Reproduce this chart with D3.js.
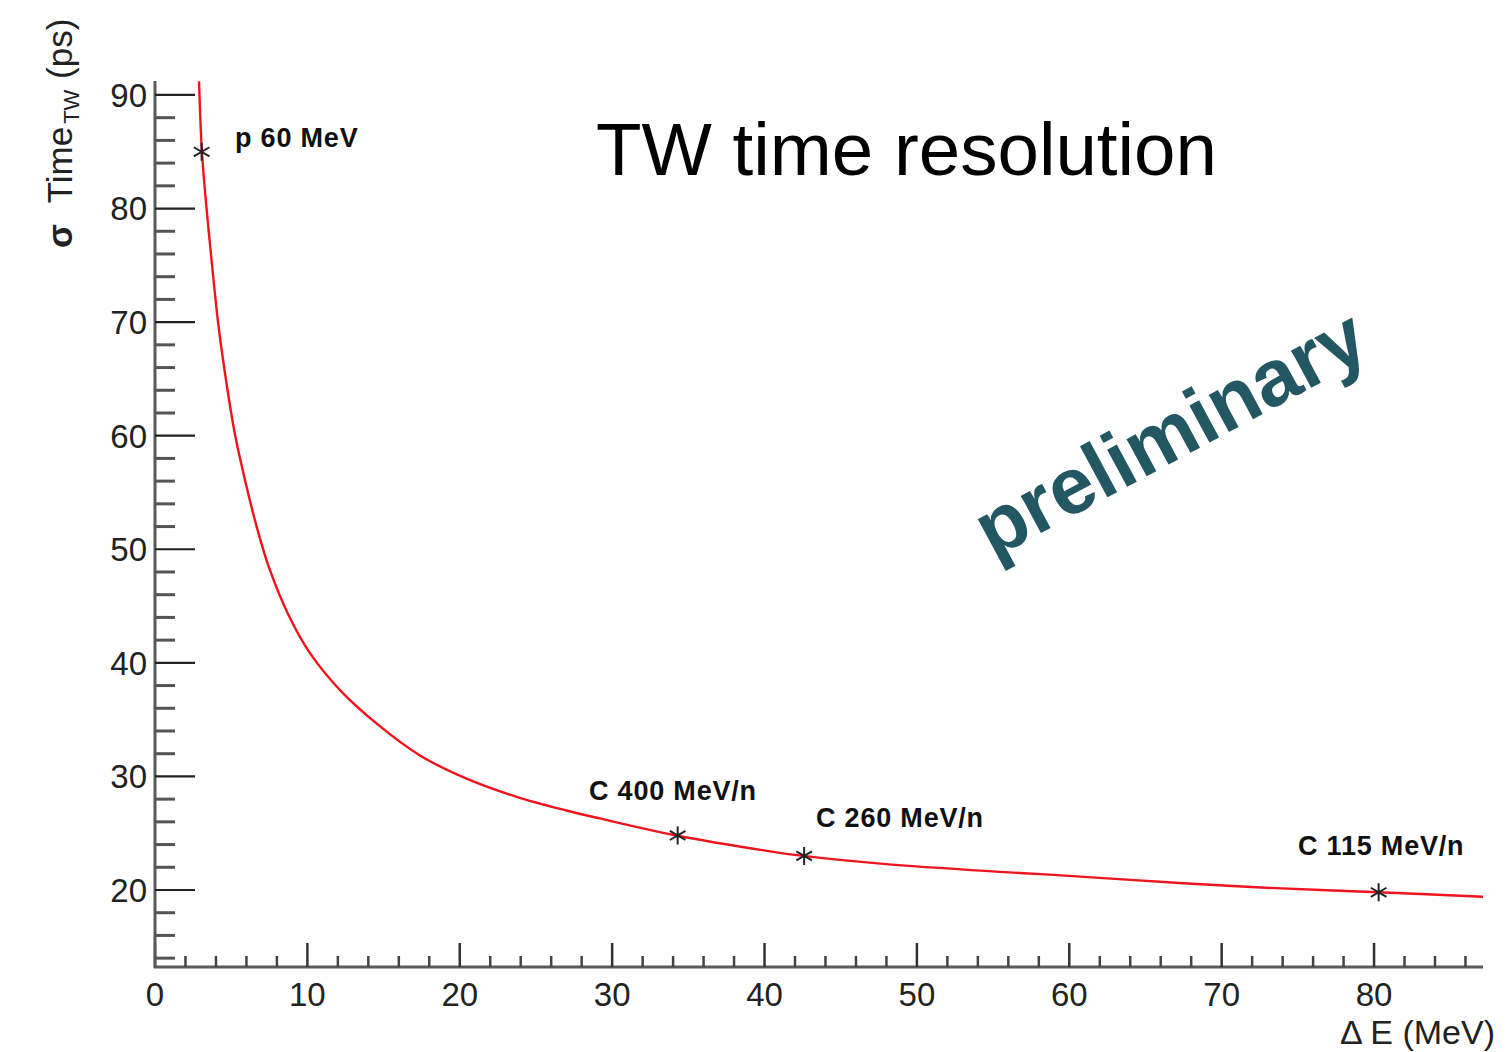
<!DOCTYPE html>
<html>
<head>
<meta charset="utf-8">
<script src="https://cdn.jsdelivr.net/npm/d3@7"></script>
<style>
  html, body { margin: 0; padding: 0; background: #fff; }
  svg { display: block; }
  text { font-family: "Liberation Sans", Arial, Helvetica, sans-serif; }
</style>
</head>
<body>
<svg id="chart" width="1509" height="1052"></svg>
<script>
// Fitted TW time resolution curve, sampled along ΔE (MeV) -> σ (ps)
const curveDeltaE = [2.89, 3.08, 3.38, 3.71, 4.13, 4.66, 5.25, 5.94, 6.69, 7.48, 8.73, 10.17, 12.14, 14.55, 17.39, 20.45, 23.73, 27.01, 29.2, 34.23, 40.14, 42.54, 47.79, 55.45, 58.7, 67.5, 72.9, 80.3, 87.15];
const curveSigma   = [91.2, 85.0, 80.05, 75.5, 70.1, 64.9, 60.1, 55.9, 51.9, 48.4, 44.3, 40.85, 37.6, 34.65, 31.85, 29.8, 28.2, 27.0, 26.3, 24.8, 23.45, 23.0, 22.3, 21.6, 21.35, 20.6, 20.2, 19.8, 19.4];

// Measured beams
const beamLabels = ["p 60 MeV", "C 400 MeV/n", "C 260 MeV/n", "C 115 MeV/n"];
const beamDeltaE = [3.06, 34.3, 42.6, 80.3];
const beamSigma  = [85.0, 24.8, 23.0, 19.8];

// Axis ticks
const xMajorTicks = [0, 10, 20, 30, 40, 50, 60, 70, 80];
const xMinorTicks = [2, 4, 6, 8, 12, 14, 16, 18, 22, 24, 26, 28, 32, 34, 36, 38, 42, 44, 46, 48, 52, 54, 56, 58, 62, 64, 66, 68, 72, 74, 76, 78, 82, 84, 86];
const yMajorTicks = [20, 30, 40, 50, 60, 70, 80, 90];
const yMinorTicks = [14, 16, 18, 22, 24, 26, 28, 32, 34, 36, 38, 42, 44, 46, 48, 52, 54, 56, 58, 62, 64, 66, 68, 72, 74, 76, 78, 82, 84, 86, 88];

const svg = d3.select("#chart");

const x = d3.scaleLinear().domain([0, 87.15]).range([155, 1483]);
const y = d3.scaleLinear().domain([13.22, 91.23]).range([967, 81]);

const axisColor = "#5a5a5a";

// ---- X axis: ticks point up into the frame ----
const gx = svg.append("g").attr("transform", `translate(0,${y.range()[0]})`);
gx.append("line")
  .attr("x1", x.range()[0] - 1).attr("x2", x.range()[1])
  .attr("stroke", axisColor).attr("stroke-width", 3);
gx.selectAll("line.minor").data(xMinorTicks).join("line")
  .attr("class", "minor")
  .attr("x1", d => x(d)).attr("x2", d => x(d))
  .attr("y1", 0).attr("y2", -11)
  .attr("stroke", "#444").attr("stroke-width", 2.5);
gx.selectAll("line.major").data(xMajorTicks).join("line")
  .attr("class", "major")
  .attr("x1", d => x(d)).attr("x2", d => x(d))
  .attr("y1", 0).attr("y2", -24)
  .attr("stroke", "#333").attr("stroke-width", 2.5);
gx.selectAll("text").data(xMajorTicks).join("text")
  .attr("x", d => x(d)).attr("y", 39)
  .attr("text-anchor", "middle")
  .attr("font-size", 33).attr("fill", "#222")
  .text(d => d);

// ---- Y axis: ticks point right into the frame ----
const gy = svg.append("g").attr("transform", `translate(${x.range()[0]},0)`);
gy.append("line")
  .attr("y1", y.range()[1]).attr("y2", y.range()[0] + 1)
  .attr("stroke", axisColor).attr("stroke-width", 3);
gy.selectAll("line.minor").data(yMinorTicks).join("line")
  .attr("class", "minor")
  .attr("y1", d => y(d)).attr("y2", d => y(d))
  .attr("x1", 0).attr("x2", 20)
  .attr("stroke", "#555").attr("stroke-width", 3);
gy.selectAll("line.major").data(yMajorTicks).join("line")
  .attr("class", "major")
  .attr("y1", d => y(d)).attr("y2", d => y(d))
  .attr("x1", 0).attr("x2", 40)
  .attr("stroke", "#222").attr("stroke-width", 2.2);
gy.selectAll("text").data(yMajorTicks).join("text")
  .attr("x", -8).attr("y", d => y(d))
  .attr("dy", "0.36em")
  .attr("text-anchor", "end")
  .attr("font-size", 33).attr("fill", "#222")
  .text(d => d);

// ---- Axis titles ----
svg.append("text")
  .attr("x", 1495).attr("y", 1044)
  .attr("text-anchor", "end")
  .attr("font-size", 34).attr("fill", "#222")
  .text("\u0394 E (MeV)");

const yTitle = svg.append("text")
  .attr("transform", "translate(72,248) rotate(-90)")
  .attr("text-anchor", "start")
  .attr("font-size", 35).attr("fill", "#222");
yTitle.append("tspan").attr("font-weight", 700).text("\u03c3");
yTitle.append("tspan").attr("dx", 11).text(" Time");
yTitle.append("tspan").attr("font-size", 22).attr("dx", 3).attr("dy", 7).text("TW");
yTitle.append("tspan").attr("dy", -7).attr("dx", 1).text(" (ps)");

// ---- Fit curve ----
const line = d3.line()
  .x((d, i) => x(curveDeltaE[i]))
  .y((d, i) => y(curveSigma[i]))
  .curve(d3.curveCatmullRom.alpha(0.5));
svg.append("path")
  .attr("d", line(curveDeltaE))
  .attr("fill", "none")
  .attr("stroke", "#f0141e")
  .attr("stroke-width", 2.4);

// ---- Measured points (asterisk markers) ----
const star = d3.symbol().type(d3.symbolAsterisk).size(230);
svg.selectAll("path.pt").data(beamDeltaE).join("path")
  .attr("class", "pt")
  .attr("transform", (d, i) => `translate(${x(d)},${y(beamSigma[i])})`)
  .attr("d", star())
  .attr("fill", "none")
  .attr("stroke", "#222")
  .attr("stroke-width", 2);

// ---- Beam labels ----
const labelPos = [[235, 147], [589, 800], [816, 827], [1298, 855]];
svg.selectAll("text.beam").data(beamLabels).join("text")
  .attr("class", "beam")
  .attr("x", (d, i) => labelPos[i][0])
  .attr("y", (d, i) => labelPos[i][1])
  .attr("font-family", "Lato, sans-serif")
  .attr("font-weight", 700)
  .attr("font-size", 27)
  .attr("letter-spacing", 0.8)
  .attr("fill", "#111")
  .text(d => d);

// ---- Title and watermark ----
svg.append("text")
  .attr("x", 596).attr("y", 175)
  .attr("font-size", 74.5).attr("fill", "#000")
  .text("TW time resolution");

svg.append("text")
  .attr("transform", "translate(993,559) rotate(-28.3)")
  .attr("font-size", 80).attr("font-weight", 700)
  .attr("fill", "#235764")
  .text("preliminary");
</script>
</body>
</html>
